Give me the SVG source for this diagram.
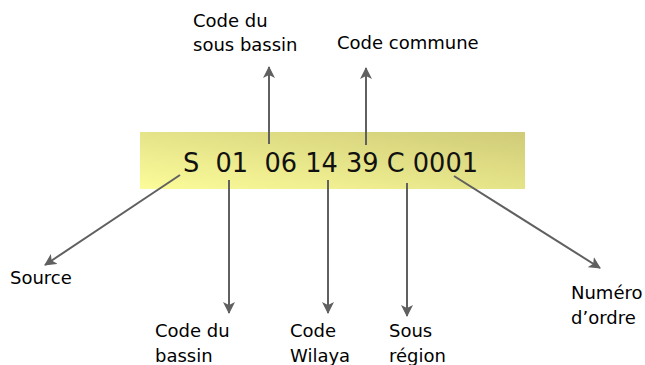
<svg xmlns="http://www.w3.org/2000/svg" width="645" height="365" viewBox="0 0 645 365">
<style>
.lbl{font-family:"DejaVu Sans","Liberation Sans",sans-serif;font-size:18px;fill:#000}
.code{font-family:"DejaVu Sans","Liberation Sans",sans-serif;font-size:27px;fill:#111}
.conn{stroke:#606060;stroke-width:2;fill:none;marker-end:url(#ah)}
</style>
<defs>
<linearGradient id="bg" x1="0" y1="1" x2="1" y2="0">
<stop offset="0" stop-color="#fcfc9a"/>
<stop offset="1" stop-color="#cfcb78"/>
</linearGradient>
<marker id="ah" viewBox="0 0 12 12" refX="11" refY="6" markerWidth="12" markerHeight="12" markerUnits="userSpaceOnUse" orient="auto">
<path d="M0,0 L12,6 L0,12 L3,6 z" fill="#606060"/>
</marker>
</defs>
<g id="code-box">
<rect x="140" y="132" width="385" height="57" fill="url(#bg)"/>
<text class="code" x="183" y="172" textLength="295" lengthAdjust="spacingAndGlyphs" xml:space="preserve">S  01  06 14 39 C 0001</text>
</g>
<g id="connectors">
<line class="conn" x1="269" y1="144" x2="269" y2="67"/>
<line class="conn" x1="366" y1="145" x2="366" y2="68"/>
<line class="conn" x1="180" y1="175" x2="45" y2="265"/>
<line class="conn" x1="229" y1="180" x2="229" y2="313"/>
<line class="conn" x1="328" y1="180" x2="328" y2="313"/>
<line class="conn" x1="407" y1="183" x2="407" y2="316"/>
<line class="conn" x1="454" y1="176" x2="600" y2="268"/>
</g>
<g id="n-sous-bassin"><text class="lbl" x="193" y="27">Code du</text><text class="lbl" x="193" y="51">sous bassin</text></g>
<g id="n-commune"><text class="lbl" x="337" y="49">Code commune</text></g>
<g id="n-source"><text class="lbl" x="10" y="284">Source</text></g>
<g id="n-bassin"><text class="lbl" x="155" y="337">Code du</text><text class="lbl" x="155" y="362">bassin</text></g>
<g id="n-wilaya"><text class="lbl" x="290" y="337">Code</text><text class="lbl" x="290" y="362">Wilaya</text></g>
<g id="n-region"><text class="lbl" x="389" y="337">Sous</text><text class="lbl" x="389" y="362">région</text></g>
<g id="n-numero"><text class="lbl" x="571" y="299">Numéro</text><text class="lbl" x="571" y="324">d’ordre</text></g>
</svg>
